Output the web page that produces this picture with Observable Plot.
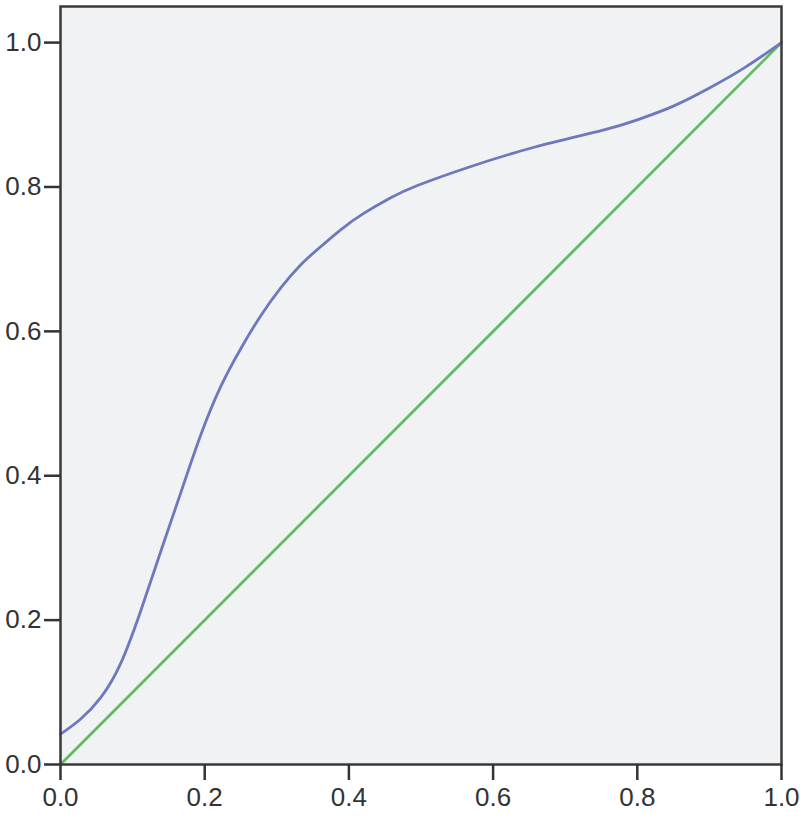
<!DOCTYPE html>
<html>
<head>
<meta charset="utf-8">
<script src="https://cdn.jsdelivr.net/npm/d3@7"></script>
<script src="https://cdn.jsdelivr.net/npm/@observablehq/plot@0.6"></script>
<style>
  html, body { margin: 0; padding: 0; background: #ffffff; }
  svg { display: block; }
</style>
</head>
<body>
<div id="chart"></div>
<script>
// ROC-style curve
const curveX = [0, 0.028, 0.056, 0.083, 0.111, 0.139, 0.167, 0.194, 0.222, 0.250, 0.278, 0.306, 0.333, 0.357, 0.389, 0.420, 0.458, 0.495, 0.565, 0.657, 0.750, 0.800, 0.850, 0.900, 0.950, 1.0];
const curveY = [0.042, 0.063, 0.093, 0.139, 0.212, 0.295, 0.377, 0.455, 0.523, 0.576, 0.622, 0.661, 0.692, 0.714, 0.741, 0.763, 0.785, 0.802, 0.827, 0.855, 0.878, 0.893, 0.912, 0.937, 0.966, 1.0];
// reference diagonal
const diagX = [0, 1];
const diagY = [0, 1];
const ticks = [0, 0.2, 0.4, 0.6, 0.8, 1.0];

const curve = curveX.map((x, i) => ({x, y: curveY[i]}));
const diag = diagX.map((x, i) => ({x, y: diagY[i]}));

const fmt = d3.format(".1f");

const chart = Plot.plot({
  width: 800,
  height: 823,
  marginLeft: 60,
  marginRight: 19,
  marginTop: 6,
  marginBottom: 59,
  style: {fontFamily: "'Liberation Sans', Arial, sans-serif", fontSize: "26px", color: "#333", background: "#ffffff"},
  x: {domain: [0, 1], ticks: ticks, tickFormat: fmt, label: null},
  y: {domain: [0, 1.05], ticks: ticks, tickFormat: fmt, label: null},
  marks: [
    Plot.frame({fill: "#f1f2f4", stroke: null}),
    Plot.line(diag, {x: "x", y: "y", stroke: "#62bb62", strokeWidth: 2.8}),
    Plot.line(curve, {x: "x", y: "y", stroke: "#6e78bc", strokeWidth: 2.8, curve: "natural"}),
    Plot.frame({stroke: "#3a3a3a", strokeWidth: 2.5}),
    Plot.axisX({ticks: ticks, tickFormat: fmt, tickSize: 16, tickPadding: 7, strokeWidth: 2.5, stroke: "#333", fill: "#333", fontSize: 26, label: null}),
    Plot.axisY({ticks: ticks, tickFormat: fmt, tickSize: 16, tickPadding: 3, strokeWidth: 2.5, stroke: "#333", fill: "#333", fontSize: 26, label: null})
  ]
});
document.getElementById("chart").appendChild(chart);
</script>
</body>
</html>
